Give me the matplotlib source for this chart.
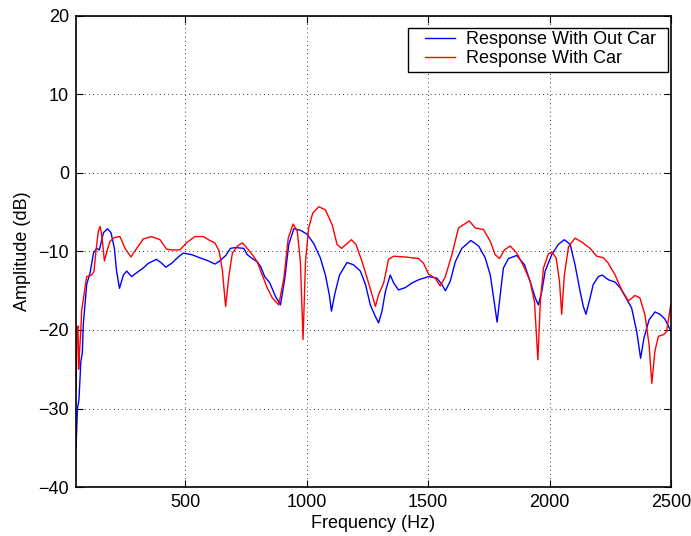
import matplotlib
matplotlib.use("Agg")
import matplotlib.pyplot as plt
from matplotlib.patches import Rectangle

blue_f = [50, 56, 62, 70, 76, 80, 94, 108, 122, 135, 146, 163, 180, 194, 208, 217, 229, 245,
          259, 279, 300, 327, 348, 382, 403, 420, 444, 471, 492, 526, 560, 595, 622, 642,
          667, 686, 707, 741, 755, 776, 796, 810, 827, 848, 871, 892, 910, 926, 947, 974,
          1002, 1029, 1056, 1077, 1093, 1102, 1115, 1135, 1166, 1193, 1221, 1242, 1262,
          1280, 1296, 1310, 1324, 1344, 1358, 1378, 1406, 1434, 1461, 1502, 1536, 1557,
          1571, 1591, 1612, 1639, 1676, 1708, 1735, 1756, 1772, 1784, 1797, 1810, 1831,
          1865, 1897, 1920, 1941, 1954, 1968, 1982, 2009, 2036, 2061, 2085, 2105, 2126,
          2139, 2150, 2163, 2180, 2201, 2217, 2242, 2270, 2290, 2311, 2338, 2359, 2375,
          2389, 2410, 2434, 2455, 2475, 2499]
blue_db = [-35, -30, -28.9, -24, -22.9, -19.3, -14.2, -12.7, -10.2, -9.6, -9.8, -7.6, -7.1,
           -7.6, -9.6, -12.5, -14.7, -13.0, -12.5, -13.2, -12.7, -12.1, -11.5, -11.0, -11.5,
           -12.0, -11.5, -10.7, -10.2, -10.4, -10.8, -11.2, -11.6, -11.2, -10.5, -9.6, -9.5,
           -9.6, -10.4, -10.9, -11.3, -11.9, -13.2, -14.0, -15.7, -16.8, -13.4, -9.1, -7.1,
           -7.3, -7.8, -9.0, -10.8, -13.0, -15.5, -17.6, -15.5, -13.0, -11.4, -11.7, -12.5,
           -14.2, -16.8, -18.1, -19.1, -17.6, -15.1, -13.0, -14.0, -14.9, -14.6, -14.0,
           -13.6, -13.2, -13.4, -14.2, -15.0, -13.8, -11.3, -9.6, -8.6, -9.3, -10.8, -13.0,
           -16.4, -19.0, -15.5, -12.1, -10.9, -10.5, -11.7, -13.8, -15.9, -16.8, -15.1,
           -12.5, -10.4, -9.1, -8.5, -9.1, -11.7, -15.1, -17.0, -18.0, -16.4, -14.2, -13.2,
           -13.0, -13.6, -13.9, -14.6, -15.7, -17.2, -20.2, -23.6, -21.0, -18.7, -17.7,
           -18.0, -18.6, -20.1]

red_f = [50, 54, 58, 61, 64, 70, 73, 83, 94, 115, 124, 132, 142, 149, 156, 167, 179, 190,
         210, 231, 252, 276, 300, 327, 361, 396, 423, 444, 478, 505, 539, 574, 601, 622,
         640, 653, 666, 680, 694, 715, 735, 755, 776, 796, 817, 837, 858, 885, 906, 924,
         944, 961, 974, 985, 995, 1008, 1025, 1050, 1077, 1105, 1125, 1143, 1166, 1184,
         1203, 1228, 1249, 1269, 1283, 1296, 1317, 1337, 1358, 1406, 1461, 1481, 1502,
         1529, 1550, 1571, 1598, 1625, 1650, 1669, 1694, 1728, 1756, 1776, 1794, 1814,
         1838, 1865, 1897, 1920, 1938, 1952, 1962, 1975, 1995, 2009, 2027, 2041, 2050,
         2061, 2078, 2105, 2133, 2167, 2194, 2222, 2242, 2270, 2297, 2325, 2352, 2372,
         2393, 2410, 2421, 2434, 2448, 2469, 2482, 2499]
red_db = [-27.6, -20, -19.5, -25, -23, -20, -17.6, -15.5, -13.2, -13.0, -12.5, -10, -7.4,
          -6.8, -7.9, -11.2, -9.8, -8.7, -8.2, -8.1, -9.6, -10.7, -9.6, -8.4, -8.1, -8.5,
          -9.7, -9.8, -9.8, -8.9, -8.1, -8.1, -8.6, -8.9, -10, -12.5, -17.0, -13.0, -10.2,
          -9.3, -8.9, -9.6, -10.4, -11.3, -13.0, -14.6, -15.9, -16.8, -13.4, -8.3, -6.5,
          -7.4, -11.3, -21.2, -11.3, -7.0, -5.1, -4.3, -4.7, -6.6, -9.1, -9.6, -9.0, -8.5,
          -9.1, -11.3, -13.4, -15.5, -17.0, -15.5, -14.0, -11.0, -10.6, -10.7, -10.9,
          -11.5, -12.9, -13.4, -14.4, -13.2, -10.4, -7.0, -6.5, -6.1, -7.0, -7.2, -8.7,
          -10.4, -10.9, -9.8, -9.3, -10.2, -12.1, -13.8, -16.4, -23.8, -16.4, -12.1, -10.3,
          -10.1, -10.8, -13.8, -18.0, -13.0, -9.4, -8.3, -8.8, -9.6, -10.6, -10.8, -11.5,
          -13.0, -14.9, -16.3, -15.6, -15.9, -18.1, -21.9, -26.8, -22.7, -20.8, -20.6,
          -20.2, -16.8]

x_ticks = [500, 1000, 1500, 2000, 2500]
y_ticks = [-40, -30, -20, -10, 0, 10, 20]
series_labels = ['Response With Out Car', 'Response With Car']

plt.rcParams['font.family'] = ['Liberation Sans', 'DejaVu Sans']
plt.rcParams['font.size'] = 13

fig = plt.figure(figsize=(6.91, 5.36), dpi=100)
ax = fig.add_axes([0.110, 0.0914, 0.861, 0.8788])

ax.plot(blue_f, blue_db, color=(0, 0, 1), lw=1.0, label=series_labels[0])
ax.plot(red_f, red_db, color=(1, 0, 0), lw=1.0, label=series_labels[1])

ax.set_xlim(50, 2500)
ax.set_ylim(-40, 20)
ax.set_xticks(x_ticks)
ax.set_yticks(y_ticks)
ax.set_yticklabels([str(v).replace('-', '\u2212') for v in y_ticks])
ax.grid(True, color='black', linestyle=(0, (1, 4)), linewidth=0.6)
ax.tick_params(direction='in', top=True, right=True, length=5, width=0.8, pad=5)
for s in ax.spines.values():
    s.set_linewidth(1.2)

ax.set_xlabel('Frequency (Hz)', labelpad=3)
ax.set_ylabel('Amplitude (dB)', labelpad=5)

# legend frame drawn as a box, legend entries on top of it
frame = Rectangle((0.558, 0.881), 0.437, 0.0935, transform=ax.transAxes,
                  facecolor='white', edgecolor='black', linewidth=1.0, zorder=4.5)
ax.add_patch(frame)
leg = ax.legend(loc='upper right', bbox_to_anchor=(0.975, 0.968), frameon=False,
                handlelength=1.65, borderpad=0.0, labelspacing=0.12,
                handletextpad=0.6, borderaxespad=0.0)
leg.set_zorder(5)

fig.savefig('out.png', dpi=100)
